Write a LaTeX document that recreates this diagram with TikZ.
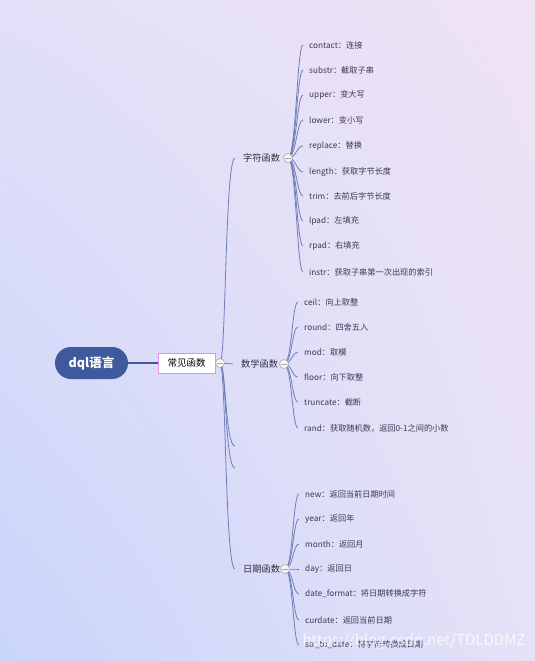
\documentclass[tikz,border=0pt]{standalone}
\usepackage{fontspec}
\setmainfont{Noto Sans CJK SC}
\usetikzlibrary{calc,shadings}
\definecolor{lnc}{HTML}{6F7EB8}
\definecolor{rootc}{HTML}{3F5A9C}
\definecolor{boxb}{HTML}{E68EEA}
\definecolor{txtc}{HTML}{3A3A52}
\definecolor{tlc}{HTML}{2E2E3E}
\definecolor{bgtl}{HTML}{E2E0F8}
\definecolor{bgtr}{HTML}{EFE3F5}
\definecolor{bgbl}{HTML}{C9D5FA}
\definecolor{bgbr}{HTML}{E5E1F7}
\pgfdeclarelayer{bg}
\pgfdeclarelayer{lines}
\pgfsetlayers{bg,lines,main}
\tikzset{
  rootnode/.style={fill=rootc, rounded corners=16pt, minimum width=73pt, minimum height=32pt, text=white, font=\fontsize{12.5}{14}\selectfont\bfseries, inner sep=0pt},
  topbox/.style={draw=boxb, line width=0.8pt, fill=white, minimum width=57pt, minimum height=20pt, inner sep=0pt, text=black, font=\fontsize{9.5}{11}\selectfont},
  tog/.style={circle, draw=gray!65, fill=gray!8, line width=0.6pt, minimum size=9pt, inner sep=0pt},
  grp/.style={anchor=west, inner xsep=8pt, inner ysep=1pt, text=tlc, font=\fontsize{9.2}{11}\selectfont},
  leaf/.style={anchor=west, inner xsep=6pt, inner ysep=1pt, text=txtc, font=\fontsize{8.2}{10}\selectfont},
  conn/.style={draw=lnc, line width=0.8pt},
}
\newcommand{\minussign}[1]{\draw[gray!70, line width=0.7pt] ($(#1.center)+(-2.6,0)$) -- ($(#1.center)+(2.6,0)$);}
% bracket curve: #1 toggle, #2 target point, #3 dx first control, #4 dx second control
\newcommand{\brc}[4]{\draw[conn] (#1.center) .. controls ($(#1.center)+(#3,0)$) and ($(#2)+(-#4,0)$) .. (#2);}
\begin{document}
\begin{tikzpicture}[x=1pt,y=-1pt]
\useasboundingbox (0,0) rectangle (535,661);
\begin{pgfonlayer}{bg}
\shade[upper left=bgtl, upper right=bgtr, lower left=bgbl, lower right=bgbr] (0,0) rectangle (535,661);
\end{pgfonlayer}

% root and main topic
\node[rootnode] (root) at (91.5,363) {dql语言};
\node[topbox] (top) at (186.5,363) {常见函数};
\node[tog] (c0) at (220,363) {};

% groups
\node[grp] (g1) at (235,158) {字符函数};
\node[grp] (g2) at (233,364) {数学函数};
\node[grp] (g3) at (235,569) {日期函数};
\coordinate (e1) at (235,446);
\coordinate (e2) at (235,468);
\node[tog] (c1) at (288,158) {};
\node[tog] (c2) at (284,364) {};
\node[tog] (c3) at (285,569) {};

% string functions
\node[leaf] (s1) at (303,45) {contact：连接};
\node[leaf] (s2) at (303,70) {substr：截取子串};
\node[leaf] (s3) at (303,95) {upper：变大写};
\node[leaf] (s4) at (303,120) {lower：变小写};
\node[leaf] (s5) at (303,146) {replace：替换};
\node[leaf] (s6) at (303,172) {length：获取字节长度};
\node[leaf] (s7) at (303,196) {trim：去前后字节长度};
\node[leaf] (s8) at (303,221) {lpad：左填充};
\node[leaf] (s9) at (303,246) {rpad：右填充};
\node[leaf] (s10) at (303,272) {instr：获取子串第一次出现的索引};

% math functions
\node[leaf] (m1) at (298,302) {ceil：向上取整};
\node[leaf] (m2) at (298,327) {round：四舍五入};
\node[leaf] (m3) at (298,352) {mod：取模};
\node[leaf] (m4) at (298,377) {floor：向下取整};
\node[leaf] (m5) at (298,402) {truncate：截断};
\node[leaf] (m6) at (298,428) {rand：获取随机数，返回0-1之间的小数};

% date functions
\node[leaf] (d1) at (299,494) {new：返回当前日期时间};
\node[leaf] (d2) at (299,519) {year：返回年};
\node[leaf] (d3) at (299,544) {month：返回月};
\node[leaf] (d4) at (299,569) {day：返回日};
\node[leaf] (d5) at (299,594) {date\_format：将日期转换成字符};
\node[leaf] (d6) at (299,620) {curdate：返回当前日期};
\node[leaf] (d7) at (299,645) {str\_to\_date：将字符转换成日期};

\begin{pgfonlayer}{lines}
\draw[draw=rootc, line width=1.3pt] (root.east) -- (top.west);
\brc{c0}{g1.west}{6}{10}
\draw[conn] (c0.center) -- (g2.west);
\brc{c0}{e1}{6}{10}
\brc{c0}{e2}{6}{10}
\brc{c0}{g3.west}{6}{10}
\foreach \n in {s1,s2,s3,s4,s5,s6,s7,s8,s9,s10} {\brc{c1}{\n.west}{8}{6}}
\foreach \n in {m1,m2,m3,m4,m5,m6} {\brc{c2}{\n.west}{8}{6}}
\foreach \n in {d1,d2,d3,d4,d5,d6,d7} {\brc{c3}{\n.west}{8}{6}}
\end{pgfonlayer}

\minussign{c0}
\minussign{c1}
\minussign{c2}
\minussign{c3}

% watermark
\node[text=white, opacity=0.75, font=\fontsize{15}{17}\selectfont, inner sep=0pt] (wm) at (414,641) {https://blog.csdn.net/TDLDDMZ};
\end{tikzpicture}
\end{document}
